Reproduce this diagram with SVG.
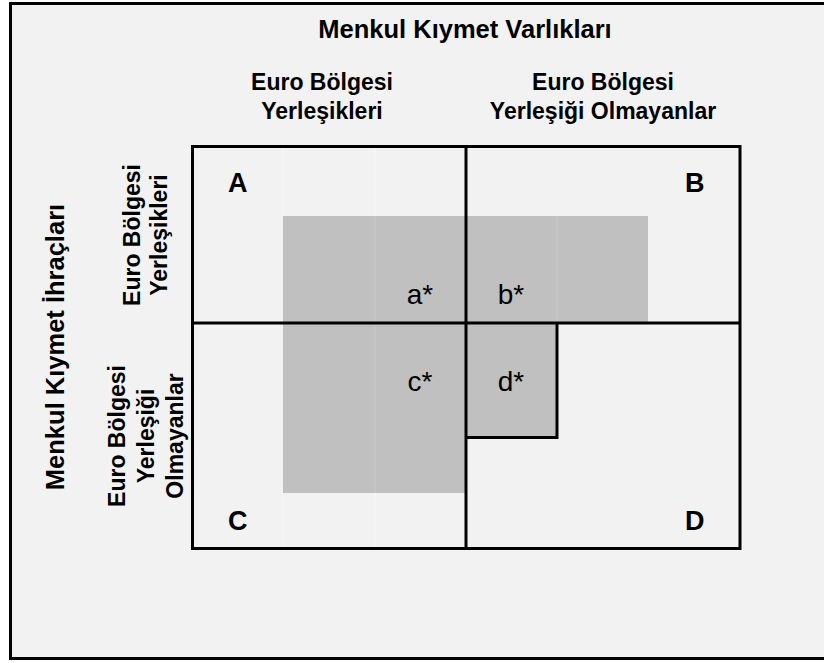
<svg xmlns="http://www.w3.org/2000/svg" width="824" height="663" viewBox="0 0 824 663">
  <style>
    .hdr { font-family: "Liberation Sans", Arial, sans-serif; font-weight: bold; font-size: 23px; fill: #000; text-anchor: middle; }
    .big { font-size: 25.5px; }
    .lbl { font-family: "Liberation Sans", Arial, sans-serif; font-weight: bold; font-size: 27px; fill: #000; }
    .sub { font-family: "Liberation Sans", Arial, sans-serif; font-size: 28px; fill: #000; text-anchor: middle; }
    .frame { fill: #f2f2f2; stroke: #000; stroke-width: 3; }
    .line { stroke: #000; stroke-width: 3; fill: none; }
    .faint { stroke: #cacaca; stroke-width: 1; fill: none; }
    .faintbg { stroke: #f8f8f8; stroke-width: 1; fill: none; }
  </style>
  <rect x="0" y="0" width="824" height="663" fill="#ffffff"/>
  <rect id="frame" class="frame" x="10.5" y="3.5" width="820" height="655"/>

  <g id="titles">
    <text class="hdr big" x="465" y="38">Menkul Kıymet Varlıkları</text>
    <g id="col-residents">
      <text class="hdr" x="322" y="90">Euro Bölgesi</text>
      <text class="hdr" x="322" y="119">Yerleşikleri</text>
    </g>
    <g id="col-nonresidents">
      <text class="hdr" x="603" y="90">Euro Bölgesi</text>
      <text class="hdr" x="603" y="119">Yerleşiği Olmayanlar</text>
    </g>
    <text class="hdr big" transform="translate(64,347) rotate(-90)">Menkul Kıymet İhraçları</text>
    <g id="row-residents">
      <text class="hdr" transform="translate(140,235) rotate(-90)">Euro Bölgesi</text>
      <text class="hdr" transform="translate(167,235) rotate(-90)">Yerleşikleri</text>
    </g>
    <g id="row-nonresidents">
      <text class="hdr" transform="translate(125,436) rotate(-90)">Euro Bölgesi</text>
      <text class="hdr" transform="translate(154,436) rotate(-90)">Yerleşiği</text>
      <text class="hdr" transform="translate(183,436) rotate(-90)">Olmayanlar</text>
    </g>
  </g>

  <g id="shaded">
    <polygon points="283,216 648,216 648,323 557,323 557,437 466,437 466,493 283,493" fill="#c0c0c0"/>
    <line class="faint" x1="375" y1="216" x2="375" y2="493"/>
    <line class="faint" x1="557" y1="216" x2="557" y2="323"/>
    <line class="faintbg" x1="375" y1="148" x2="375" y2="216"/>
    <line class="faintbg" x1="283" y1="148" x2="283" y2="216"/>
    <line class="faintbg" x1="283" y1="493" x2="283" y2="547"/>
    <line class="faintbg" x1="375" y1="493" x2="375" y2="547"/>
  </g>

  <g id="connectors">
    <rect class="line" x="192.5" y="146.5" width="547.5" height="402"/>
    <line class="line" x1="466" y1="146.5" x2="466" y2="548.5"/>
    <line class="line" x1="192.5" y1="323" x2="740" y2="323"/>
    <polyline class="line" points="557,323 557,437.5 466,437.5"/>
  </g>

  <g id="node-A"><text class="lbl" x="228" y="192">A</text></g>
  <g id="node-B"><text class="lbl" x="685" y="192">B</text></g>
  <g id="node-C"><text class="lbl" x="228" y="530">C</text></g>
  <g id="node-D"><text class="lbl" x="685" y="530">D</text></g>
  <g id="node-a"><text class="sub" x="420" y="304">a*</text></g>
  <g id="node-b"><text class="sub" x="511" y="304">b*</text></g>
  <g id="node-c"><text class="sub" x="420" y="391">c*</text></g>
  <g id="node-d"><text class="sub" x="511" y="391">d*</text></g>
</svg>
